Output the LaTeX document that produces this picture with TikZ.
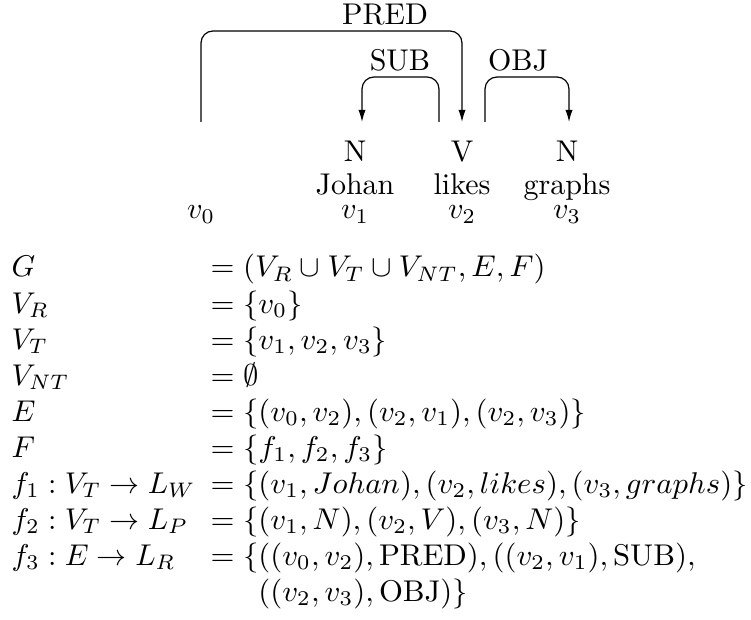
\documentclass[tikz,border=0pt]{standalone}
\usepackage{graphicx}
\usetikzlibrary{arrows.meta,calc}

\begin{document}
\begin{tikzpicture}[x=0.3333pt,y=-0.3333pt,
  lbl/.style={anchor=base,inner sep=0pt},
  dep/.style={rounded corners=4pt},
  arr/.style={-{Latex[length=4pt,width=2.4pt]}}]
\useasboundingbox (0,0) rectangle (751,620);

% tokens
\node[lbl] (v0) at (201,219) {$v_0$};
\node[lbl] (pos1) at (355,162) {N};
\node[lbl] (word1) at (355,195) {Johan};
\node[lbl] (v1) at (355,219) {$v_1$};
\node[lbl] (pos2) at (462,162) {V};
\node[lbl] (word2) at (462,195) {likes};
\node[lbl] (v2) at (462,219) {$v_2$};
\node[lbl] (pos3) at (567,162) {N};
\node[lbl] (word3) at (567,195) {graphs};
\node[lbl] (v3) at (567,219) {$v_3$};

% edge ends
\coordinate (top0) at (201,122);
\coordinate (top1) at (362,122);
\coordinate (top2) at (462,122);
\coordinate (top3) at (569,122);

\draw[dep,arr] (top0) -- ++(0,-91) -| (top2);
\draw[dep,arr] ($(top2)+(-23,0)$) -- ++(0,-45) -| (top1);
\draw[dep,arr] ($(top2)+(23,0)$) -- ++(0,-45) -| (top3);

\node[lbl] (pred) at (385,25) {PRED};
\node[lbl] (sub) at (400,71) {SUB};
\node[lbl] (obj) at (518,71) {OBJ};

% definition
\node[anchor=base west,inner sep=0pt] (lhs) at (11,277) {$\begin{array}[t]{@{}l@{}}
G\\
V_R\\
V_T\\
V_{NT}\\
E\\
F\\
f_1 : V_T \rightarrow L_W\\
f_2 : V_T \rightarrow L_P\\
f_3 : E \rightarrow L_R
\end{array}$};
\node[anchor=base west,inner sep=0pt] (rhs) at (210,277) {\resizebox{179pt}{\height}{$\begin{array}[t]{@{}l@{}}
= (V_R \cup V_T \cup V_{NT}, E, F)\\
= \{v_0\}\\
= \{v_1, v_2, v_3\}\\
= \emptyset\\
= \{(v_0, v_2), (v_2, v_1), (v_2, v_3)\}\\
= \{f_1, f_2, f_3\}\\
= \{(v_1, Johan), (v_2, likes), (v_3, graphs)\}\\
= \{(v_1, N), (v_2, V), (v_3, N)\}\\
= \{((v_0, v_2), \mathrm{PRED}), ((v_2, v_1), \mathrm{SUB}),\\
\hphantom{=\{}((v_2, v_3), \mathrm{OBJ})\}
\end{array}$}};
\end{tikzpicture}
\end{document}
